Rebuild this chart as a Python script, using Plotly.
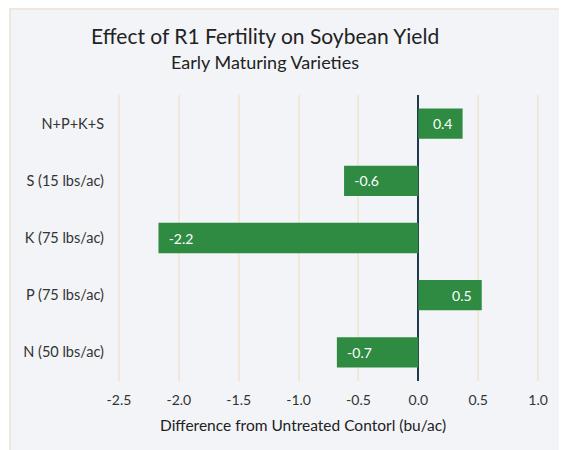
import plotly.graph_objects as go

# categories listed bottom to top
treatments = ["N (50 lbs/ac)", "P (75 lbs/ac)", "K (75 lbs/ac)", "S (15 lbs/ac)", "N+P+K+S"]
yield_diff = [-0.68, 0.53, -2.17, -0.62, 0.37]
tick_vals = [-2.5, -2.0, -1.5, -1.0, -0.5, 0.0, 0.5, 1.0]
tick_text = ["-2.5", "-2.0", "-1.5", "-1.0", "-0.5", "0.0", "0.5", "1.0"]

# labels padded a little away from the bar end (non-breaking spaces)
pad = "\u00a0\u00a0"
bar_labels = [(pad + f"{v:.1f}") if v < 0 else (f"{v:.1f}" + pad) for v in yield_diff]

W, H = 567, 450
OFF = 8  # page body margin shifts the figure by this much
left, right, top, bottom = 107 - OFF, 17 + OFF, 95 - OFF, 69 + OFF
pw, ph = W - left - right, H - top - bottom

def px_x(p):
    # page pixel -> paper coordinate
    return (p - OFF - left) / pw

def px_y(p):
    return (H - bottom - (p - OFF)) / ph

fig = go.Figure()
fig.add_trace(go.Bar(
    y=treatments,
    x=yield_diff,
    orientation="h",
    marker=dict(color="#2E8B41", line=dict(width=0)),
    text=bar_labels,
    textposition="inside",
    insidetextanchor="end",
    textfont=dict(color="white", size=14, family="Lato"),
    width=0.53,
    cliponaxis=False,
))

fig.add_shape(type="rect", xref="paper", yref="paper",
              x0=px_x(10), x1=px_x(566), y0=px_y(460), y1=px_y(9),
              fillcolor="#F2F4F7", line=dict(color="#EFE7D8", width=2),
              layer="below")

fig.add_annotation(text="Effect of R1 Fertility on Soybean Yield",
                   xref="paper", yref="paper", x=px_x(265), y=px_y(35),
                   showarrow=False, xanchor="center", yanchor="middle",
                   font=dict(size=21, color="#222", family="Lato"))
fig.add_annotation(text="Early Maturing Varieties",
                   xref="paper", yref="paper", x=px_x(265), y=px_y(62),
                   showarrow=False, xanchor="center", yanchor="middle",
                   font=dict(size=18, color="#222", family="Lato"))
# x-axis title sits left of the plot centre in the original
fig.add_annotation(text="Difference from Untreated Contorl (bu/ac)",
                   xref="paper", yref="paper", x=px_x(303), y=px_y(425),
                   showarrow=False, xanchor="center", yanchor="middle",
                   font=dict(size=15.5, color="#222", family="Lato"))

fig.update_xaxes(range=[-2.6, 1.1],
                 tickvals=tick_vals, ticktext=tick_text,
                 showgrid=True, gridcolor="#F0E8D8", gridwidth=1.5,
                 zeroline=True, zerolinecolor="#1E3A4C", zerolinewidth=2,
                 ticklabelstandoff=9,
                 tickfont=dict(size=14, color="#333", family="Lato"),
                 automargin=False)
fig.update_yaxes(showgrid=False,
                 tickfont=dict(size=14.5, color="#333", family="Lato"),
                 ticklabelstandoff=2,
                 automargin=False)

fig.update_layout(width=W, height=H,
                  margin=dict(l=left, r=right, t=top, b=bottom),
                  paper_bgcolor="white",
                  plot_bgcolor="rgba(0,0,0,0)",
                  showlegend=False,
                  font=dict(family="Lato"))

fig.write_html("out.html")
